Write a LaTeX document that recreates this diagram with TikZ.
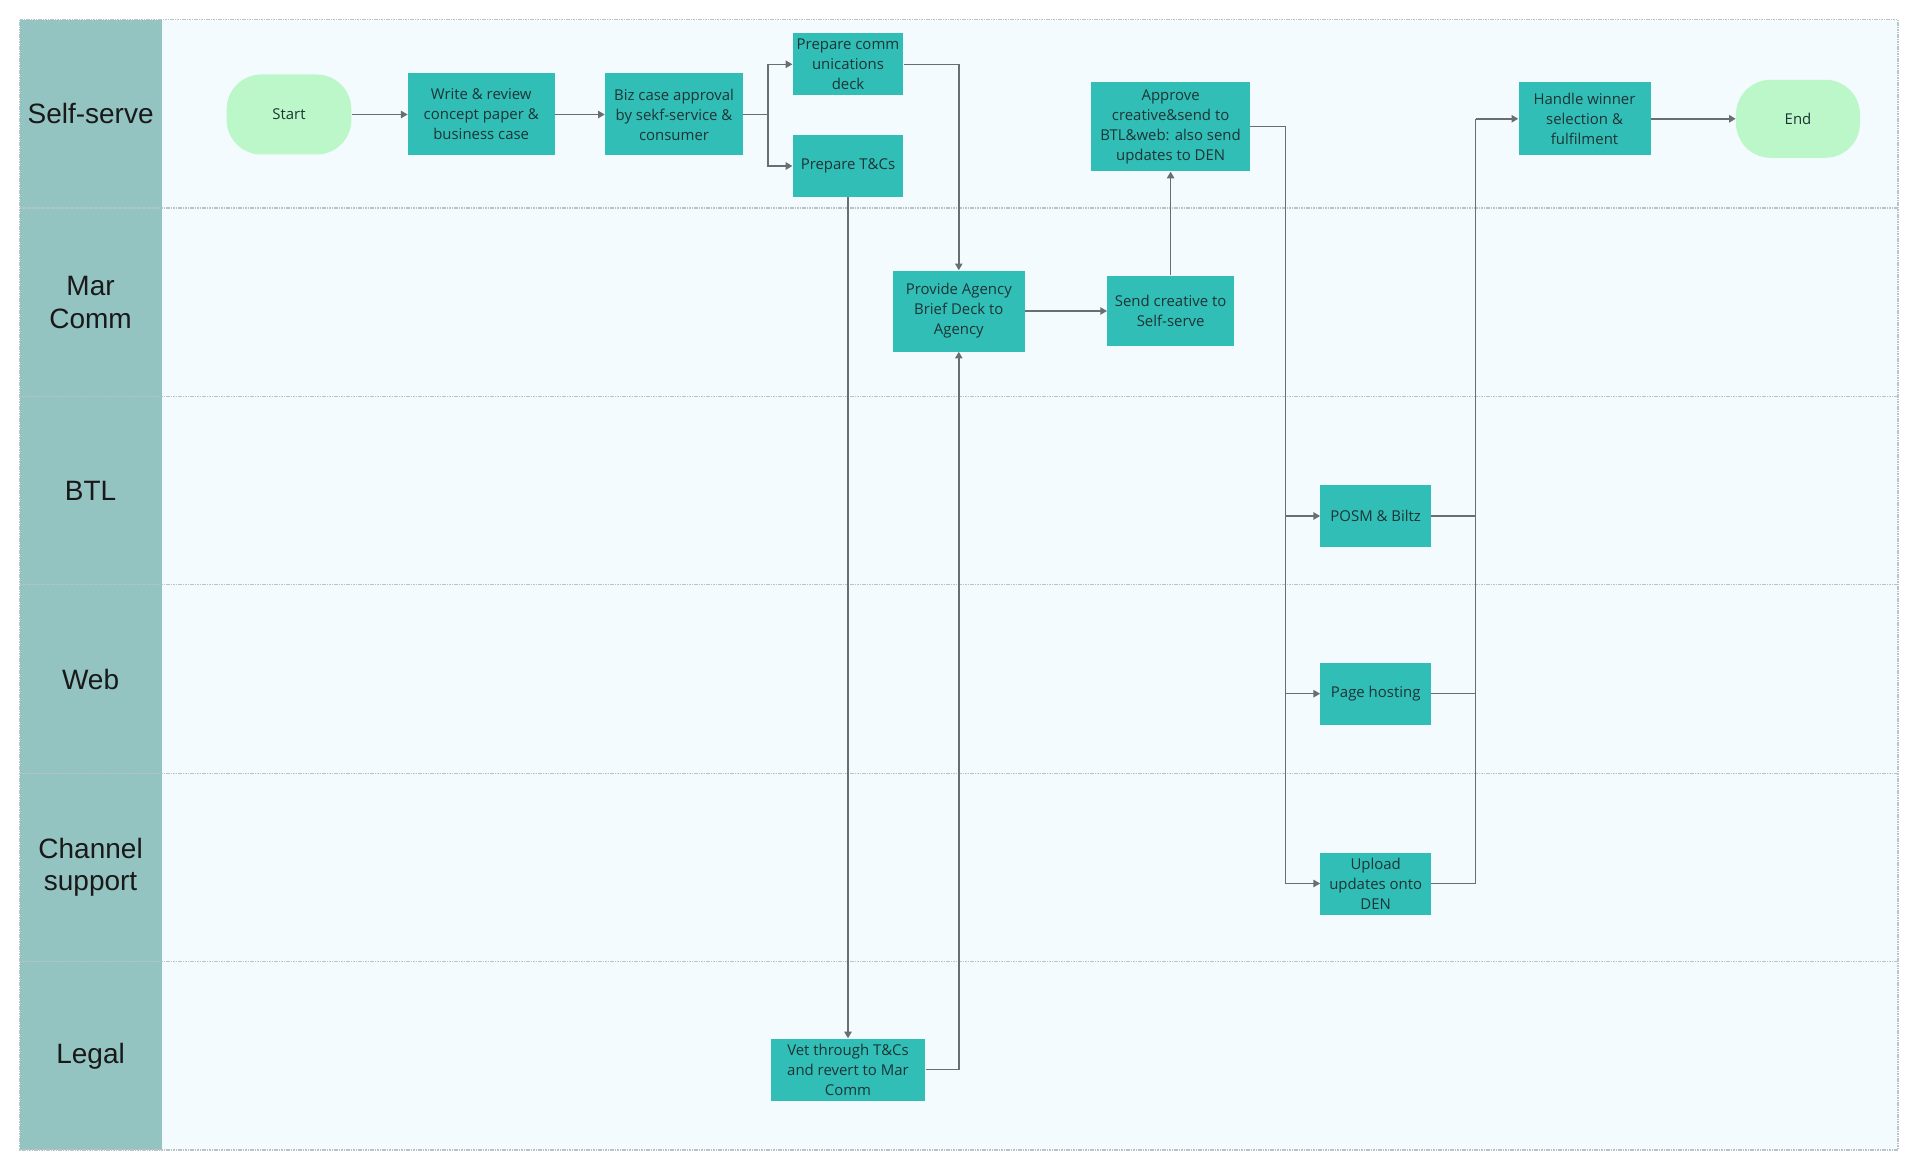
\documentclass[tikz,border=0pt]{standalone}
\usepackage{fontspec}
\setmainfont{Open Sans}
\newfontfamily\lanefont{Liberation Sans}
\usepackage{tikz}
\usetikzlibrary{arrows.meta}
\definecolor{lanebar}{HTML}{94C4C1}
\definecolor{lanebody}{HTML}{F3FBFE}
\definecolor{lanerule}{HTML}{BCC3C7}
\definecolor{taskteal}{HTML}{30BEB7}
\definecolor{termgreen}{HTML}{BBF7C8}
\definecolor{flowgrey}{HTML}{6B6E70}
\definecolor{inkdark}{HTML}{1E3434}

\begin{document}
\begin{tikzpicture}[x=0.75pt,y=-0.75pt,
        task/.style={fill=taskteal,text=inkdark,align=center,inner sep=0pt,font=\fontsize{11.2}{15}\selectfont},
        smalltask/.style={task,minimum width=83pt,minimum height=46.5pt},
        term/.style={fill=termgreen,text=inkdark,rounded corners=26pt,minimum width=93.5pt,minimum height=60pt,font=\fontsize{11.2}{15}\selectfont},
        lanename/.style={text=black!90,align=center,font=\lanefont\fontsize{21}{24.5}\selectfont},
        lanesep/.style={draw=lanerule,line width=0.8pt,dash pattern=on 1.2pt off 0.6pt},
        link/.style={draw=flowgrey,line width=1.1pt},
        flow/.style={link,-{Triangle[width=5.5pt,length=5pt]}}]
            \useasboundingbox (0, 0) rectangle (1920, 1170);
            % swimlanes
            \fill[white] (0, 0) rectangle (1920, 1170);
            \fill[lanebody] (19.6, 19.6) rectangle (1898, 1150);
            \fill[lanebar] (19.6, 19.6) rectangle (161.6, 1150);
            \foreach \i in {1,...,5}
                \draw[lanesep] (19.6, 19.6+188.4*\i) -- (1898, 19.6+188.4*\i);
            \draw[lanesep] (19.6, 19.6) rectangle (1898, 1150);
            \foreach \name [count=\i] in {Self-serve, {Mar\\Comm}, BTL, Web, {Channel\\support}, Legal}
                \node[lanename] (lane\i) at (90.6, 19.6+188.4*\i-94.2) {\name};

            % self-serve
            \draw (289, 114.5) node[term](start){Start};
            \draw (481.2, 114.5) node[task, minimum width=110pt, minimum height=61.5pt](write){Write \& review\\concept paper \&\\business case};
            \draw (start) -- (write) [flow];
            \draw (674, 114.5) node[task, minimum width=103.5pt, minimum height=61.5pt](biz){Biz case approval\\by sekf-service \&\\consumer};
            \draw[flow] (write) -- (biz);
            \draw (848, 64.3) node[smalltask](prepcomm){Prepare comm\\unications\\deck};
            \draw (848, 166) node[smalltask](prepterms){Prepare T\&Cs};
            \coordinate (split1) at (767.8, 114.5);
            \draw[flow] (biz) -- (split1) |- (prepcomm);
            \draw[flow] (biz) -- (split1) |- (prepterms);
            \draw (1170.6, 126.7) node[task, minimum width=119pt, minimum height=67pt](approve){Approve\\creative\&send to\\BTL\&web: also send\\updates to DEN};
            \draw (1584.5, 118.8) node[task, minimum width=99pt, minimum height=55pt](handle){Handle winner\\selection \&\\fulfilment};
            \draw (1798, 118.8) node[term, minimum width=93pt, minimum height=58.5pt](end){End};
            \draw[flow] (handle) -- (end);

            % mar comm
            \draw (958.8, 311) node[task, minimum width=99pt, minimum height=60.75pt](provide){Provide Agency\\Brief Deck to\\Agency};
            \draw[flow] (prepcomm) -| (provide);
            \draw (1170.6, 311) node[task, minimum width=95pt, minimum height=53pt](send){Send creative to\\Self-serve};
            \draw[flow] (provide) -- (send);
            \draw[flow] (send) -- (approve);

            % legal
            \draw (848, 1069.6) node[task, minimum width=116pt, minimum height=46.5pt](vet){Vet through T\&Cs\\and revert to Mar\\Comm};
            \draw[flow] (prepterms) -- (vet);
            \draw[flow] (vet) -| (provide);

            % btl, web, channel support
            \draw (1375.7, 516) node[smalltask](posm){POSM \& Biltz};
            \draw (1375.7, 693.7) node[smalltask](hosting){Page hosting};
            \draw (1375.7, 883.5) node[smalltask](upload){Upload\\updates onto\\DEN};
            \coordinate (split2) at (1285.7, 126.7);
            \coordinate (merge) at (1475.5, 118.8);
            \foreach \n in {posm, hosting, upload} {
                \draw[flow] (approve) -- (split2) |- (\n);
                \draw[link] (\n) -| (merge);
            }
            \draw[flow] (merge) -- (handle);
        \end{tikzpicture}
\end{document}
